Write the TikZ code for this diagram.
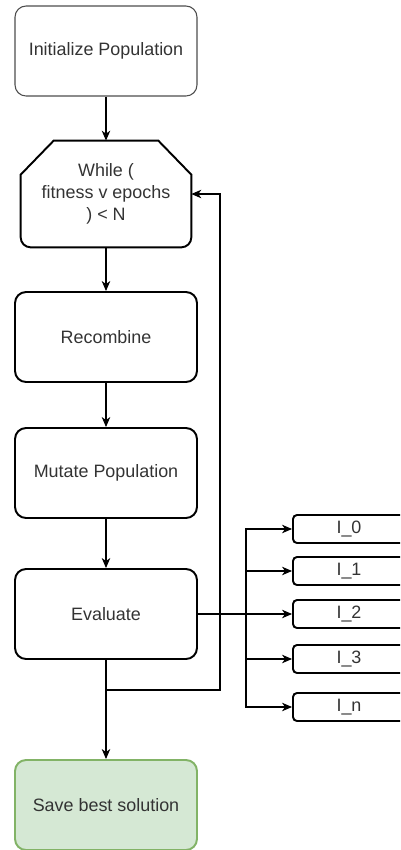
\documentclass[tikz,border=0pt]{standalone}
\usepackage{fontspec}
\setmainfont{Liberation Sans}
\usetikzlibrary{positioning}
\usetikzlibrary{arrows.meta}
\definecolor{textc}{HTML}{333333}
\definecolor{initdrawc}{HTML}{4D4D4D}
\definecolor{savefillc}{HTML}{D5E8D4}
\definecolor{savedrawc}{HTML}{82B366}

\begin{document}
\begin{tikzpicture}[x=0.02cm,y=-0.02cm,
  font=\fontsize{10.2}{12.5}\selectfont,
  stepbox/.style={draw,line width=1.1pt,rounded corners=0.22cm,minimum width=3.64cm,minimum height=1.8cm,text=textc,align=center},
  itembox/.style={draw,line width=1.1pt,rounded corners=0.08cm,minimum width=2.24cm,minimum height=0.56cm,text=textc},
  link/.style={line width=0.6pt,-{Stealth[length=0.2cm,width=0.17cm,inset=0.06cm]}}]
\clip (0,0) rectangle (400,850);

\node[stepbox,draw=initdrawc,line width=0.6pt] (init) at (106,51) {Initialize Population};
\node[minimum width=3.4cm,minimum height=2.12cm,align=center,text=textc] (while) at (106,194) {While (\\fitness v epochs\\) < N};
\draw[line width=1.1pt] ([xshift=0.66cm]while.north west) -- ([xshift=-0.66cm]while.north east) -- ([yshift=-0.68cm]while.north east) -- ([yshift=0.2cm]while.south east) arc (0:-90:0.2cm) -- ([xshift=0.2cm]while.south west) arc (270:180:0.2cm) -- ([yshift=-0.68cm]while.north west) -- cycle;
\node[stepbox] (recomb) at (106,337) {Recombine};
\node[stepbox] (mutate) at (106,473) {Mutate Population};
\node[stepbox] (eval) at (106,614) {Evaluate};
\node[stepbox,fill=savefillc,draw=savedrawc] (save) at (106,805) {Save best solution};

% individuals
\foreach \lbl/\yy in {0/529,1/571,2/614,3/659,n/707}
  \node[itembox] (item\lbl) at (349,\yy) {I\_\lbl};

\draw[link] (init) -- (while);
\draw[link] (while) -- (recomb);
\draw[link] (recomb) -- (mutate);
\draw[link] (mutate) -- (eval);
\draw[link] (eval) -- (save);

% loop back
\coordinate (loopc) at (220,690);
\draw[link] (eval.south) |- (loopc) |- (while.east);

% fan out
\coordinate (bus) at (246,614);
\draw[link] (eval.east) -- (item2.west);
\foreach \lbl in {0,1,3,n}
  \draw[link] (bus) |- (item\lbl.west);
\end{tikzpicture}
\end{document}
